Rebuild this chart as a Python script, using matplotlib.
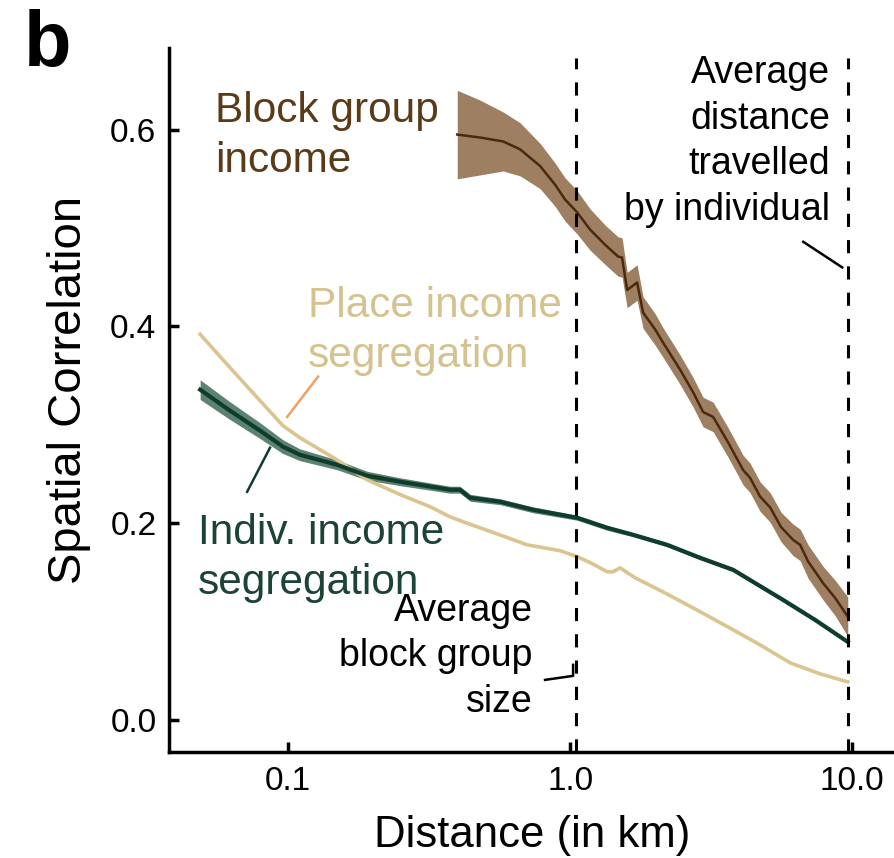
import matplotlib
matplotlib.use("Agg")
import matplotlib.pyplot as plt
import numpy as np

plt.rcParams['font.family'] = ['Liberation Sans', 'DejaVu Sans']

# ---------------- data ----------------
place_km = [0.0488, 0.0623, 0.0796, 0.096, 0.110, 0.149, 0.191, 0.250, 0.319, 0.375,
            0.431, 0.565, 0.704, 0.922, 1.059, 1.177, 1.353, 1.420, 1.504, 1.700,
            2.208, 2.891, 3.785, 4.717, 6.03, 7.70, 9.65]
place_r = [0.392, 0.358, 0.3245, 0.299, 0.287, 0.2645, 0.244, 0.229, 0.2167, 0.2065,
           0.200, 0.188, 0.178, 0.172, 0.166, 0.160, 0.1506, 0.1506, 0.1546, 0.1445,
           0.128, 0.110, 0.0916, 0.0763, 0.058, 0.0468, 0.0387]

indiv_km = [0.0488, 0.0623, 0.0796, 0.096, 0.110, 0.149, 0.191, 0.250, 0.375, 0.407,
            0.442, 0.565, 0.739, 1.059, 1.353, 1.673, 2.208, 2.891, 3.785, 5.69,
            7.39, 9.65]
indiv_r = [0.3357, 0.3143, 0.294, 0.2777, 0.2696, 0.2594, 0.2482, 0.2421, 0.234, 0.234,
           0.2258, 0.2218, 0.2136, 0.2055, 0.1953, 0.1882, 0.178, 0.1648, 0.1526, 0.122,
           0.1017, 0.0793]
indiv_se = [0.010, 0.009, 0.008, 0.007, 0.006, 0.005, 0.0045, 0.004, 0.0035, 0.0035,
            0.0035, 0.003, 0.003, 0.0025, 0.0025, 0.002, 0.002, 0.002, 0.002, 0.0018,
            0.0018, 0.0018]

block_km = [0.398, 0.480, 0.579, 0.665, 0.783, 0.885, 0.960, 1.059, 1.177, 1.331,
            1.480, 1.529, 1.593, 1.728, 1.815, 2.002, 2.137, 2.455, 2.731, 2.962,
            3.215, 3.634, 4.107, 4.347, 4.718, 5.120, 5.60, 6.178, 6.540, 6.982,
            7.892, 8.705, 9.65]
block_r = [0.595, 0.592, 0.588, 0.580, 0.563, 0.544, 0.529, 0.516, 0.4985, 0.483,
           0.471, 0.470, 0.437, 0.4446, 0.414, 0.397, 0.3835, 0.356, 0.333, 0.313,
           0.308, 0.282, 0.254, 0.246, 0.227, 0.216, 0.196, 0.183, 0.178, 0.161,
           0.139, 0.124, 0.105]
block_se = [0.045, 0.038, 0.030, 0.027, 0.023, 0.022, 0.022, 0.022, 0.021, 0.020,
            0.020, 0.020, 0.018, 0.018, 0.016, 0.016, 0.015, 0.015, 0.015, 0.015,
            0.015, 0.015, 0.015, 0.015, 0.015, 0.015, 0.015, 0.016, 0.016, 0.017,
            0.017, 0.018, 0.020]

vline_km = [1.05, 9.68]
xtick_vals = [0.1, 1.0, 10.0]
xtick_labels = ["0.1", "1.0", "10.0"]
ytick_vals = [0.0, 0.2, 0.4, 0.6]
ytick_labels = ["0.0", "0.2", "0.4", "0.6"]

# ---------------- colours ----------------
BROWN_LINE = '#4a2a0e'
BROWN_BAND = '#9e7f62'
BROWN_TEXT = '#5b3a18'
TAN = '#dcc48e'
TAN_TEXT = '#d6c28f'
ORANGE = '#f0a060'
GREEN_LINE = '#0f3d2c'
GREEN_BAND = '#5e8272'
GREEN_TEXT = '#1c4434'

W, H = 895, 858
fig = plt.figure(figsize=(W / 100, H / 100), dpi=100)
ax = fig.add_axes([169 / W, 1 - 752 / H, (895 - 169) / W, (752 - 48) / H])
ax.set_xscale('log')
ax.set_xlim(0.03784, 14.19)
ax.set_ylim(-0.0326, 0.683)


def fp(x, y):
    return x / W, 1 - y / H


# bands
ib = np.array(indiv_r)
ise = np.array(indiv_se)
ax.fill_between(indiv_km, ib - ise, ib + ise, color=GREEN_BAND, lw=0, zorder=2)
bb = np.array(block_r)
bse = np.array(block_se)
ax.fill_between(block_km, bb - bse, bb + bse, color=BROWN_BAND, lw=0, zorder=2)

# lines
ax.plot(place_km, place_r, color=TAN, lw=2.6, zorder=3)
ax.plot(indiv_km, indiv_r, color=GREEN_LINE, lw=3.0, zorder=4)
ax.plot(block_km, block_r, color=BROWN_LINE, lw=1.8, zorder=4)

# dashed reference lines
for v in vline_km:
    ax.plot([v, v], [-0.0326, 0.673], color='black', lw=2.2,
            linestyle=(0, (4.3, 4.3)), zorder=5, clip_on=False)

# pointer lines
ax.plot([0.1278, 0.0993], [0.349, 0.308], color=ORANGE, lw=1.8, zorder=6)
ax.plot([0.0863, 0.0716], [0.2767, 0.2319], color=GREEN_LINE, lw=1.8, zorder=6)
ax.plot([6.71, 9.22], [0.486, 0.460], color='black', lw=1.8, zorder=6)
ax.plot([0.815, 1.025, 1.025], [0.0407, 0.0448, 0.056], color='black', lw=1.8, zorder=6)

# axes style
for s in ['top', 'right']:
    ax.spines[s].set_visible(False)
for s in ['left', 'bottom']:
    ax.spines[s].set_linewidth(2.5)
ax.set_xticks(xtick_vals)
ax.set_xticklabels(xtick_labels)
ax.xaxis.set_minor_locator(matplotlib.ticker.NullLocator())
ax.set_yticks(ytick_vals)
ax.set_yticklabels(ytick_labels)
ax.tick_params(direction='in', length=7, width=2.5, labelsize=24, pad=9)
ax.tick_params(axis='x', pad=10)
ax.set_xlabel('Distance (in km)', fontsize=31.5, labelpad=13)
ax.set_ylabel('Spatial Correlation', fontsize=34)
ax.yaxis.set_label_coords(-0.108, 0.514)

# texts
fig.text(*fp(24, 66), 'b', fontsize=56, fontweight='bold', ha='left', va='baseline')
fig.text(*fp(215, 172), 'Block group\nincome', color=BROWN_TEXT, fontsize=30.5,
         ha='left', va='baseline', linespacing=1.33, multialignment='left')
fig.text(*fp(308, 367), 'Place income\nsegregation', color=TAN_TEXT, fontsize=30.5,
         ha='left', va='baseline', linespacing=1.33)
fig.text(*fp(198, 594), 'Indiv. income\nsegregation', color=GREEN_TEXT, fontsize=30.5,
         ha='left', va='baseline', linespacing=1.33)
fig.text(*fp(830, 220), 'Average\ndistance\ntravelled\nby individual', color='black',
         fontsize=27, ha='right', va='baseline', linespacing=1.34, multialignment='right')
fig.text(*fp(533, 712), 'Average\nblock group\nsize', color='black',
         fontsize=27, ha='right', va='baseline', linespacing=1.34, multialignment='right')

fig.savefig('out.png', dpi=100)
